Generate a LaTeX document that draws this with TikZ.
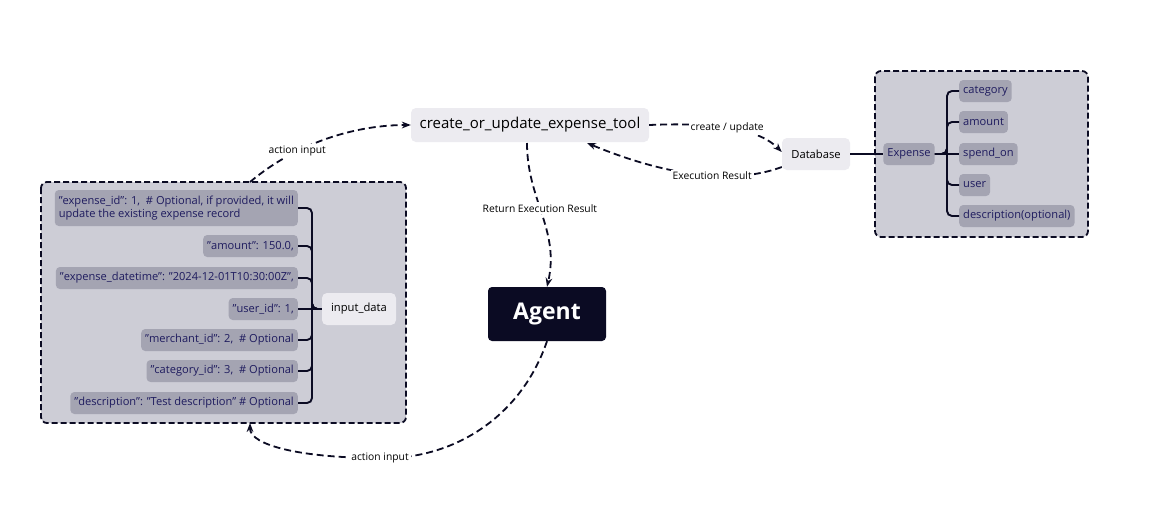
\documentclass[tikz,border=0pt]{standalone}
\usepackage{fontspec}
\setmainfont{Open Sans}
\usetikzlibrary{arrows.meta}
\definecolor{navy}{HTML}{1E1B5E}
\definecolor{boxbg}{HTML}{CDCDD6}
\definecolor{item}{HTML}{A4A4B2}
\definecolor{light}{HTML}{ECEBF0}
\definecolor{dark}{HTML}{0B0B23}
\begin{document}
\begin{tikzpicture}[x=1pt,y=-1pt,
  grp/.style={draw=dark,line width=1.8pt,dash pattern=on 6pt off 3pt,fill=boxbg,rounded corners=6pt},
  it/.style={fill=item,rounded corners=4pt,text=navy,font=\fontsize{11.1}{12.5}\selectfont,inner xsep=4pt,minimum height=22pt},
  lt/.style={fill=light,rounded corners=5pt,text=black,font=\fontsize{11.2}{12}\selectfont,minimum height=32pt,inner xsep=6pt},
  tr/.style={draw=dark,line width=1.9pt,rounded corners=5pt},
  dl/.style={draw=dark,line width=1.8pt,dash pattern=on 7pt off 4pt,-{Stealth[length=9pt]}},
  lb/.style={fill=white,font=\fontsize{10.3}{11}\selectfont,text=black,inner sep=2pt}]
\useasboundingbox[fill=white] (0,0) rectangle (1151,528);
\draw[grp] (41,182) rectangle (406,423);
\draw[grp] (875,71) rectangle (1088,237);
\node[lt,minimum width=238pt,minimum height=34pt,font=\fontsize{15}{16}\selectfont] (tool) at (530,125) {create\_or\_update\_expense\_tool};
\node[lt,minimum width=68pt] (db) at (816,154) {Database};
\node[fill=dark,rounded corners=4pt,text=white,font=\fontsize{23}{26}\selectfont\bfseries,minimum width=118pt,minimum height=54pt] (agent) at (547,314) {Agent};
\node[lt,minimum width=74pt] (in) at (359,309) {input\_data};
\node[it] (exp) at (909,154) {Expense};
\node[it,anchor=west] (c1) at (959,91) {category};
\node[it,anchor=west] (c2) at (959,122) {amount};
\node[it,anchor=west] (c3) at (959,154) {spend\_on};
\node[it,anchor=west] (c4) at (959,185) {user};
\node[it,anchor=west] (c5) at (959,216) {description(optional)};
\draw[tr,rounded corners=0pt] (db) -- (exp);
\coordinate (tx) at (947,0);
\foreach \c in {c1,c2,c4,c5}{\draw[tr] (exp.east) -| (tx |- exp) |- (\c.west);}
\draw[tr] (exp) -- (c3);
\node[it,anchor=east,align=left,minimum height=36pt] (l1) at (298,208) {"expense\_id": 1,\ \ \# Optional, if provided, it will\\update the existing expense record};
\node[it,anchor=east] (l2) at (298,246) {"amount": 150.0,};
\node[it,anchor=east] (l3) at (298,278) {"expense\_datetime": "2024-12-01T10:30:00Z",};
\node[it,anchor=east] (l4) at (298,309) {"user\_id": 1,};
\node[it,anchor=east] (l5) at (298,340) {"merchant\_id": 2,\ \ \# Optional};
\node[it,anchor=east] (l6) at (298,371) {"category\_id": 3,\ \ \# Optional};
\node[it,anchor=east] (l7) at (298,403) {"description": "Test description" \# Optional};
\coordinate (lx) at (312,0);
\foreach \c in {l1,l2,l3,l5,l6,l7}{\draw[tr] (in.west) -| (lx |- in) |- (\c.east);}
\draw[tr] (in) -- (l4);
\coordinate (gtop) at (250,182);
\coordinate (gbot) at (250,423);
\draw[dl] (gtop) .. controls (300,140) and (360,125) .. (tool.west) node[lb,pos=0.3] {action input};
\draw[dl] (tool.east) .. controls (720,122) and (760,130) .. (db.west |- 0,152) node[lb,pos=0.45] {create / update};
\draw[dl] (db.west |- 0,167) .. controls (720,190) and (640,165) .. (587,143) node[lb,pos=0.35] {Execution Result};
\draw[dl] (527,143) .. controls (527,200) and (560,230) .. (agent.north) node[lb,pos=0.45] {Return Execution Result};
\draw[dl] (agent.south) .. controls (520,420) and (450,460) .. (380,458) .. controls (300,458) and (250,445) .. (gbot) node[lb,pos=0] {action input};
\end{tikzpicture}
\end{document}
